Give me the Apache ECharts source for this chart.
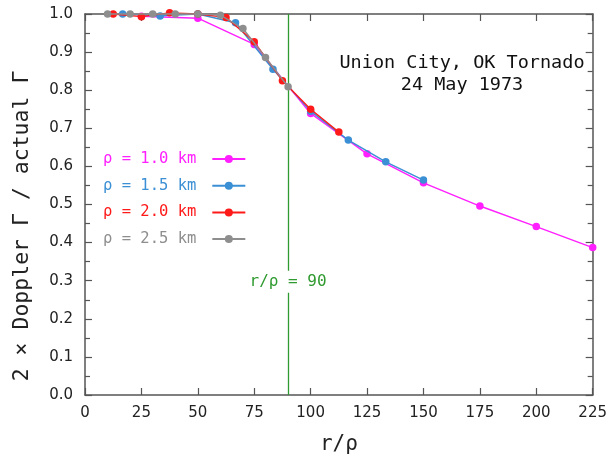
<!DOCTYPE html>
<html>
<head>
<meta charset="utf-8">
<script src="https://cdn.jsdelivr.net/npm/echarts@6/dist/echarts.min.js"></script>
<style>html,body{margin:0;padding:0;background:#fff}#c{width:610px;height:463px}</style>
</head>
<body>
<div id="c"></div>
<script>
// ---- data ----
var names = ['ρ = 1.0 km', 'ρ = 1.5 km', 'ρ = 2.0 km', 'ρ = 2.5 km'];
var colors = ['#ff1fff', '#3b8fd4', '#ff1a1a', '#8e8e8e'];
var x10 = [25, 50, 75, 100, 125, 150, 175, 200, 225];
var y10 = [0.994, 0.989, 0.920, 0.739, 0.633, 0.557, 0.496, 0.442, 0.387];
var x15 = [16.7, 33.3, 50, 66.7, 83.3, 100, 116.7, 133.3, 150];
var y15 = [1.0, 0.995, 1.0, 0.977, 0.855, 0.745, 0.669, 0.612, 0.564];
var x20 = [12.5, 25, 37.5, 50, 62.5, 75, 87.5, 100, 112.5];
var y20 = [1.0, 0.993, 1.003, 1.0, 0.991, 0.927, 0.825, 0.750, 0.690];
var x25 = [10, 20, 30, 40, 50, 60, 70, 80, 90];
var y25 = [1.0, 1.0, 1.0, 1.0, 1.0, 0.997, 0.962, 0.886, 0.809];
var xs = [x10, x15, x20, x25];
var ys = [y10, y15, y20, y25];
var refX = 90;
var refLabel = 'r/ρ = 90';
var refLabelY = 0.297;
var titleText = 'Union City, OK Tornado\n24 May 1973';
var xName = 'r/ρ';
var yName = '2 × Doppler Γ / actual Γ';

var FONT = 'DejaVu Sans';
var MONO = 'DejaVu Sans Mono';
function pairs(a, b) { return a.map(function (v, i) { return [v, b[i]]; }); }

var series = [{
  type: 'line', data: [], silent: true, z: 1,
  markLine: {
    silent: true, symbol: ['none', 'none'], animation: false,
    lineStyle: { color: '#2f9a2f', width: 1.3, type: 'solid' },
    label: { show: false },
    data: [{ xAxis: refX }]
  },
  markPoint: {
    silent: true, animation: false, symbol: 'rect', symbolSize: 0,
    label: {
      show: true, position: 'inside', formatter: refLabel,
      color: '#2f9a2f', fontFamily: MONO, fontSize: 16,
      backgroundColor: '#fff', padding: [3, 3]
    },
    data: [{ coord: [refX, refLabelY] }]
  }
}];
for (var i = 0; i < 4; i++) {
  series.push({
    name: names[i], type: 'line', data: pairs(xs[i], ys[i]), clip: false,
    symbol: 'circle', symbolSize: 7.5, showSymbol: true, z: 2 + i,
    itemStyle: { color: colors[i] },
    lineStyle: { color: colors[i], width: 1.4 },
    animation: false
  });
}

var chart = echarts.init(document.getElementById('c'), null, { renderer: 'canvas' });
var axisLineStyle = { color: '#555', width: 1.5 };
chart.setOption({
  backgroundColor: '#fff',
  animation: false,
  textStyle: { fontFamily: FONT },
  grid: { left: 85, right: 15, top: 14, bottom: 68 },
  title: {
    text: titleText, left: 457, top: 47, textAlign: 'center',
    textStyle: { fontFamily: MONO, fontWeight: 'normal', fontSize: 18.5, lineHeight: 22, color: '#111' }
  },
  legend: {
    orient: 'vertical', left: 103, top: 149, align: 'right', padding: 0,
    itemWidth: 33, itemHeight: 10, itemGap: 6.7,
    data: names.map(function (n, i) {
      return { name: n, textStyle: { color: colors[i] } };
    }),
    textStyle: { fontFamily: MONO, fontSize: 15.5, lineHeight: 20, padding: [0, 11, 0, 0] }
  },
  xAxis: [{
    type: 'value', min: 0, max: 225, interval: 25,
    name: xName, nameLocation: 'middle', nameGap: 39,
    nameTextStyle: { fontFamily: MONO, fontSize: 21, color: '#222' },
    axisLine: { show: true, onZero: false, lineStyle: axisLineStyle },
    axisTick: { show: true, inside: true, length: 7, lineStyle: { color: '#555', width: 1.2 } },
    axisLabel: { fontFamily: FONT, fontSize: 15, color: '#222', margin: 11 },
    splitLine: { show: false }
  }, {
    type: 'value', min: 0, max: 225, interval: 25, position: 'top',
    axisLine: { show: true, onZero: false, lineStyle: axisLineStyle },
    axisTick: { show: true, inside: true, length: 7, lineStyle: { color: '#555', width: 1.2 } },
    axisLabel: { show: false }, splitLine: { show: false }
  }],
  yAxis: [{
    type: 'value', min: 0, max: 1, interval: 0.1,
    axisLine: { show: true, onZero: false, lineStyle: axisLineStyle },
    axisTick: { show: true, inside: true, length: 7, lineStyle: { color: '#555', width: 1.2 } },
    minorTick: { show: true, splitNumber: 2, length: 5, lineStyle: { color: '#555', width: 1.2 } },
    axisLabel: { fontFamily: FONT, fontSize: 15, color: '#222', margin: 12,
      formatter: function (v) { return v.toFixed(1); } },
    splitLine: { show: false }
  }, {
    type: 'value', min: 0, max: 1, interval: 0.1, position: 'right',
    axisLine: { show: true, onZero: false, lineStyle: axisLineStyle },
    axisTick: { show: true, inside: true, length: 7, lineStyle: { color: '#555', width: 1.2 } },
    minorTick: { show: true, splitNumber: 2, length: 5, lineStyle: { color: '#555', width: 1.2 } },
    axisLabel: { show: false }, splitLine: { show: false }
  }],
  graphic: [{
    type: 'text', x: 22, y: 226, rotation: Math.PI / 2,
    style: { text: yName, font: '21.5px "DejaVu Sans Mono"', fill: '#222', align: 'center', verticalAlign: 'middle' }
  }],
  series: series
});
</script>
</body>
</html>
